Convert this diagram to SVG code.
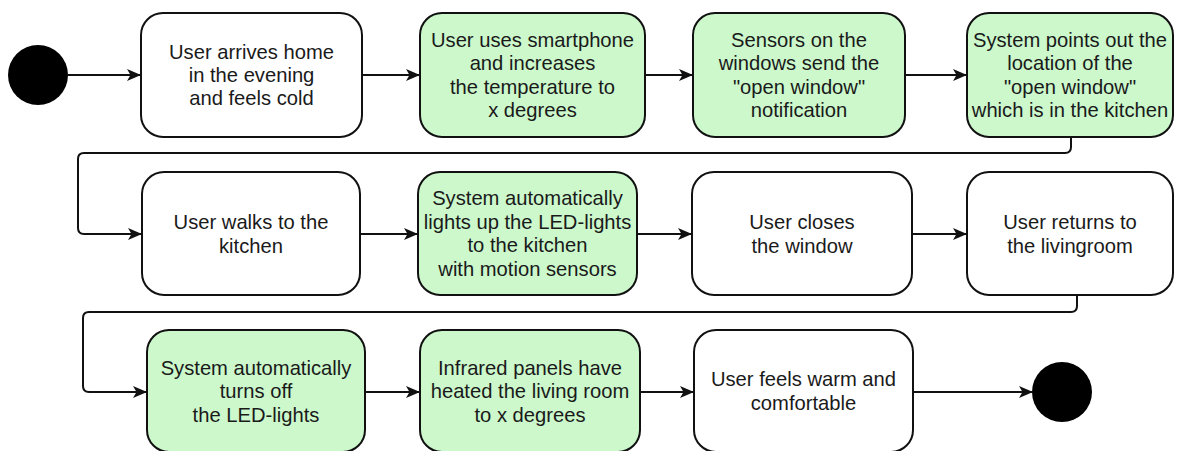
<svg xmlns="http://www.w3.org/2000/svg" width="1177" height="451" viewBox="0 0 1177 451">
  <style>
    .box { stroke: #111; stroke-width: 2; }
    .plain { fill: #ffffff; }
    .sys { fill: #ccf8cc; }
    .lbl { font-family: "Liberation Sans", Arial, sans-serif; font-size: 20.2px; fill: #1a1a1a; text-anchor: middle; }
    .edge { fill: none; stroke: #111; stroke-width: 2; }
    .dot { fill: #000; }
  </style>
  <defs>
    <marker id="arrow" markerUnits="userSpaceOnUse" markerWidth="15" markerHeight="13" refX="13" refY="6" orient="auto">
      <path d="M0,0 L14,6 L0,12 L3.5,6 Z" fill="#111"/>
    </marker>
  </defs>
  <rect width="1177" height="451" fill="#ffffff"/>

  <g id="connectors">
    <path class="edge" d="M68,75 H140" marker-end="url(#arrow)"/>
    <path class="edge" d="M362,75 H419" marker-end="url(#arrow)"/>
    <path class="edge" d="M645,75 H692" marker-end="url(#arrow)"/>
    <path class="edge" d="M905,75 H966" marker-end="url(#arrow)"/>
    <path class="edge" d="M1071,137 V147 Q1071,153 1065,153 H84 Q78,153 78,159 V228 Q78,234 84,234 H141" marker-end="url(#arrow)"/>
    <path class="edge" d="M360,234 H417" marker-end="url(#arrow)"/>
    <path class="edge" d="M637,234 H691" marker-end="url(#arrow)"/>
    <path class="edge" d="M912,234 H966" marker-end="url(#arrow)"/>
    <path class="edge" d="M1077,295 V306 Q1077,312 1071,312 H89 Q83,312 83,318 V386 Q83,392 89,392 H146" marker-end="url(#arrow)"/>
    <path class="edge" d="M365,392 H419" marker-end="url(#arrow)"/>
    <path class="edge" d="M640,392 H693" marker-end="url(#arrow)"/>
    <path class="edge" d="M913,392 H1032" marker-end="url(#arrow)"/>
  </g>

  <g id="start"><circle class="dot" cx="38" cy="75" r="30"/></g>

  <g id="n1">
    <rect class="box plain" x="141" y="13" width="221" height="124" rx="22"/>
    <text class="lbl" x="251.5" y="59">User arrives home</text>
    <text class="lbl" x="251.5" y="82">in the evening</text>
    <text class="lbl" x="251.5" y="105">and feels cold</text>
  </g>
  <g id="n2">
    <rect class="box sys" x="420" y="13" width="225" height="124" rx="22"/>
    <text class="lbl" x="532.5" y="46.5">User uses smartphone</text>
    <text class="lbl" x="532.5" y="70">and increases</text>
    <text class="lbl" x="532.5" y="93.5">the temperature to</text>
    <text class="lbl" x="532.5" y="117">x degrees</text>
  </g>
  <g id="n3">
    <rect class="box sys" x="693" y="13" width="212" height="124" rx="22"/>
    <text class="lbl" x="799" y="46.5">Sensors on the</text>
    <text class="lbl" x="799" y="70">windows send the</text>
    <text class="lbl" x="799" y="93.5">"open window"</text>
    <text class="lbl" x="799" y="117">notification</text>
  </g>
  <g id="n4">
    <rect class="box sys" x="967" y="13" width="206" height="124" rx="22"/>
    <text class="lbl" x="1070" y="46.5">System points out the</text>
    <text class="lbl" x="1070" y="70">location of the</text>
    <text class="lbl" x="1070" y="93.5">"open window"</text>
    <text class="lbl" x="1070" y="117">which is in the kitchen</text>
  </g>

  <g id="n5">
    <rect class="box plain" x="142" y="172" width="218" height="123" rx="22"/>
    <text class="lbl" x="251" y="229">User walks to the</text>
    <text class="lbl" x="251" y="252.5">kitchen</text>
  </g>
  <g id="n6">
    <rect class="box sys" x="418" y="172" width="219" height="123" rx="22"/>
    <text class="lbl" x="527.5" y="205">System automatically</text>
    <text class="lbl" x="527.5" y="228.5">lights up the LED-lights</text>
    <text class="lbl" x="527.5" y="252">to the kitchen</text>
    <text class="lbl" x="527.5" y="275.5">with motion sensors</text>
  </g>
  <g id="n7">
    <rect class="box plain" x="692" y="172" width="220" height="123" rx="22"/>
    <text class="lbl" x="802" y="229">User closes</text>
    <text class="lbl" x="802" y="252.5">the window</text>
  </g>
  <g id="n8">
    <rect class="box plain" x="967" y="172" width="206" height="123" rx="22"/>
    <text class="lbl" x="1070" y="229">User returns to</text>
    <text class="lbl" x="1070" y="252.5">the livingroom</text>
  </g>

  <g id="n9">
    <rect class="box sys" x="147" y="330" width="218" height="122" rx="22"/>
    <text class="lbl" x="256" y="374.5">System automatically</text>
    <text class="lbl" x="256" y="398">turns off</text>
    <text class="lbl" x="256" y="421.5">the LED-lights</text>
  </g>
  <g id="n10">
    <rect class="box sys" x="420" y="330" width="220" height="122" rx="22"/>
    <text class="lbl" x="530" y="374.5">Infrared panels have</text>
    <text class="lbl" x="530" y="398">heated the living room</text>
    <text class="lbl" x="530" y="421.5">to x degrees</text>
  </g>
  <g id="n11">
    <rect class="box plain" x="694" y="330" width="219" height="122" rx="22"/>
    <text class="lbl" x="803.5" y="386">User feels warm and</text>
    <text class="lbl" x="803.5" y="409.5">comfortable</text>
  </g>

  <g id="end"><circle class="dot" cx="1062" cy="392" r="30"/></g>
</svg>
